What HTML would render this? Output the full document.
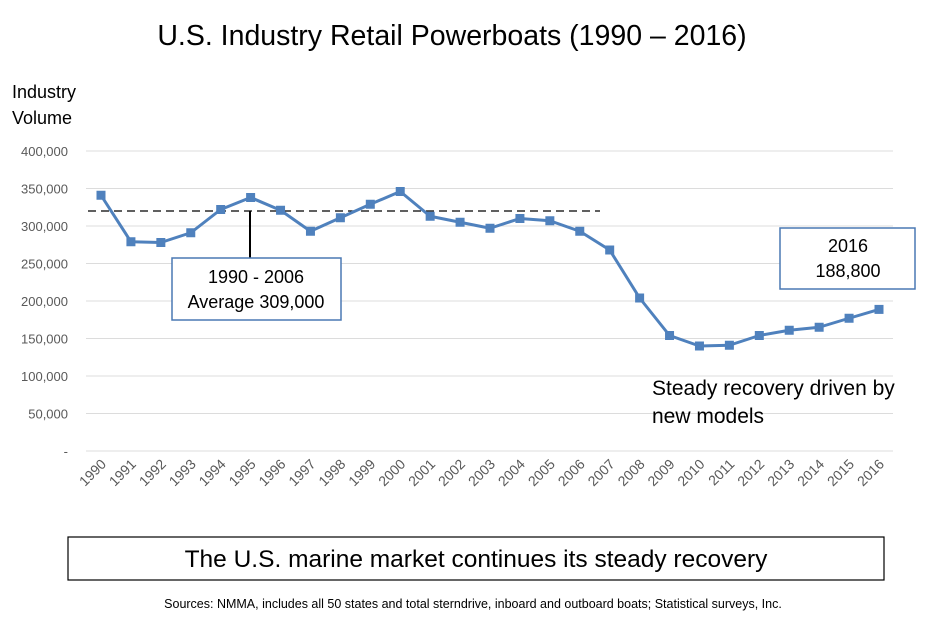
<!DOCTYPE html>
<html><head><meta charset="utf-8"><style>
body{margin:0;background:#fff;width:936px;height:617px;overflow:hidden;font-family:"Liberation Sans",sans-serif;}
</style></head><body>
<svg width="936" height="617" font-family="Liberation Sans, sans-serif">
<text x="452" y="45" font-size="28.5" text-anchor="middle" fill="#000">U.S. Industry Retail Powerboats (1990 – 2016)</text>
<text x="12" y="98" font-size="18" fill="#000"><tspan x="12">Industry</tspan><tspan x="12" y="124">Volume</tspan></text>
<g id="grid"></g>
<g id="yt"></g>
<g id="xt"></g>
<line x1="88" y1="211" x2="600" y2="211" stroke="#000" stroke-width="1.3" stroke-dasharray="8,5"/>
<line x1="250" y1="211" x2="250" y2="258" stroke="#000" stroke-width="2"/>
<g id="series"></g>
<rect x="172" y="258" width="169" height="62" fill="#fff" stroke="#4a78b4" stroke-width="1.5"/>
<text x="256" y="283" font-size="18" text-anchor="middle"><tspan x="256">1990 - 2006</tspan><tspan x="256" y="308">Average 309,000</tspan></text>
<rect x="780" y="228" width="135" height="61" fill="#fff" stroke="#4a78b4" stroke-width="1.5"/>
<text x="848" y="252" font-size="18" text-anchor="middle"><tspan x="848">2016</tspan><tspan x="848" y="277">188,800</tspan></text>
<text x="652" y="395" font-size="21"><tspan x="652">Steady recovery driven by</tspan><tspan x="652" y="423">new models</tspan></text>
<rect x="68" y="537" width="816" height="43" fill="#fff" stroke="#000" stroke-width="1.2"/>
<text x="476" y="567" font-size="24.5" text-anchor="middle">The U.S. marine market continues its steady recovery</text>
<text x="473" y="608" font-size="12.5" text-anchor="middle">Sources:  NMMA, includes all 50 states and total sterndrive, inboard and outboard boats; Statistical surveys, Inc.</text>
</svg>
<script>
const years=[1990,1991,1992,1993,1994,1995,1996,1997,1998,1999,2000,2001,2002,2003,2004,2005,2006,2007,2008,2009,2010,2011,2012,2013,2014,2015,2016];
const volumes=[341000,279000,278000,291000,322000,338000,321000,293000,311000,329000,346000,313000,305000,297000,310000,307000,293000,268000,204000,154000,140000,141000,154000,161000,165000,177000,188800];
const yTicks=[0,50000,100000,150000,200000,250000,300000,350000,400000];
const yTickLabels=["-","50,000","100,000","150,000","200,000","250,000","300,000","350,000","400,000"];
const NS="http://www.w3.org/2000/svg";
const x=i=>101+i*(879-101)/(years.length-1);
const y=v=>451-v*(300/400000);
function mk(t,a){const e=document.createElementNS(NS,t);for(const k in a)e.setAttribute(k,a[k]);return e;}
const grid=document.getElementById('grid'),yt=document.getElementById('yt'),xt=document.getElementById('xt'),s=document.getElementById('series');
yTicks.forEach((v,i)=>{
 const l=mk('line',{x1:86,x2:893,y1:y(v),y2:y(v),stroke:'#dcdcdc','stroke-width':1});
 
 
 grid.appendChild(l);
 const t=mk('text',{x:68,y:y(v)+5,'font-size':13,fill:'#595959','text-anchor':'end'});
 t.textContent=yTickLabels[i];
 
 
 yt.appendChild(t);
});
years.forEach((yr,i)=>{
 const t=mk('text',{x:x(i)+6,y:465,'font-size':14,fill:'#595959','text-anchor':'end',transform:`rotate(-45 ${x(i)+6} 465)`});
 t.textContent=yr;
 
 
 xt.appendChild(t);
});
const p=mk('polyline',{points:volumes.map((v,i)=>x(i)+','+y(v)).join(' '),fill:'none',stroke:'#4f81bd','stroke-width':3,'stroke-linejoin':'round'});


s.appendChild(p);
volumes.forEach((v,i)=>{
 const r=mk('rect',{x:x(i)-4.5,y:y(v)-4.5,width:9,height:9,fill:'#4f81bd'});
 
 
 s.appendChild(r);
});
</script>
</body></html>
